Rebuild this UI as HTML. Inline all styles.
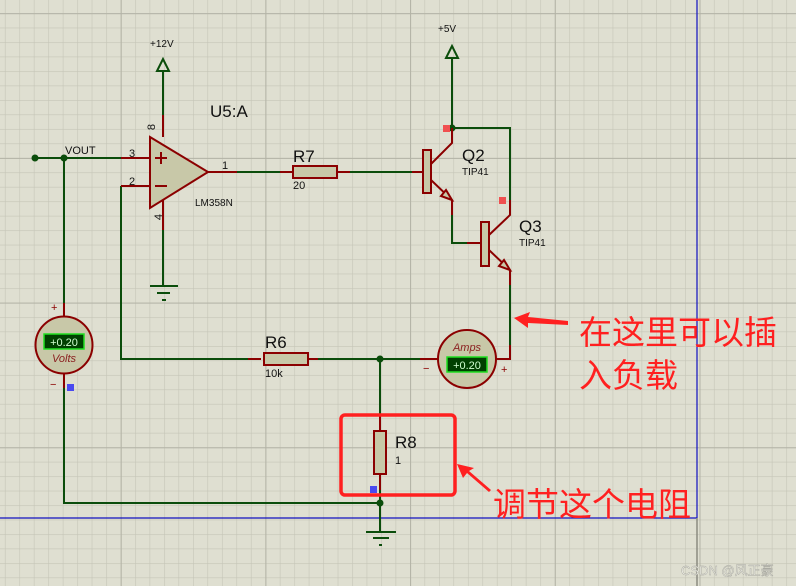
<!DOCTYPE html>
<html><head><meta charset="utf-8"><style>
html,body{margin:0;padding:0;background:#dfdfd1;}
svg{display:block}
text{font-family:"Liberation Sans","Noto Sans CJK SC",sans-serif;}
</style></head><body>
<svg width="796" height="586" viewBox="0 0 796 586" xmlns="http://www.w3.org/2000/svg">
<defs>
<pattern id="mi" x="4.9" y="13.2" width="14.47" height="14.47" patternUnits="userSpaceOnUse">
<path d="M0 0H14.47M0 0V14.47" stroke="#c5c5b7" stroke-width="1.2" fill="none"/>
</pattern>
<pattern id="ma" x="120.7" y="13.2" width="144.7" height="144.7" patternUnits="userSpaceOnUse">
<path d="M0 0H144.7M0 0V144.7" stroke="#b3b3a6" stroke-width="2" fill="none"/>
</pattern>
</defs>
<rect width="796" height="586" fill="#dfdfd1"/>
<rect width="796" height="586" fill="url(#mi)"/>
<rect width="796" height="586" fill="url(#ma)"/>
<line x1="0" y1="518" x2="697" y2="518" stroke="#1010c0" stroke-width="1.2"/>
<line x1="697" y1="0" x2="697" y2="518" stroke="#1010c0" stroke-width="1.2"/>
<line x1="697" y1="518" x2="697" y2="586" stroke="#8a8a80" stroke-width="1.5"/>

<g stroke="#0b4d0b" stroke-width="2" fill="none">
<path d="M35 158H121"/>
<path d="M64 158V303"/>
<path d="M64 388V503H380"/>
<path d="M121 186V359H248"/>
<path d="M163 115V71"/>
<path d="M163 230V286"/>
<path d="M237 172H280"/>
<path d="M350 172H412"/>
<path d="M318 359H420"/>
<path d="M380 359V415"/>
<path d="M380 490V532"/>
<path d="M452 128V58"/>
<path d="M452 128H510V200"/>
<path d="M452 215V243H467"/>
<path d="M510 285V345"/>
<path d="M150 286H178M157 293H170M162 300H166"/>
<path d="M366 532H396M373 538H389M379 545H382"/>
<path d="M157 71L163 59L169 71Z"/>
<path d="M446 58L452 46L458 58Z"/>
</g>
<g fill="#0b4d0b">
<circle cx="35" cy="158" r="3.5"/><circle cx="64" cy="158" r="3.5"/>
<circle cx="380" cy="359" r="3.5"/><circle cx="380" cy="503" r="3.5"/>
<circle cx="452" cy="128" r="3.5"/>
</g>

<g stroke="#8b0000" stroke-width="2" fill="none">
<path d="M121 158H150M121 186H150"/>
<path d="M163 115V137M163 200V230"/>
<path d="M208 172H237"/>
<path d="M280 172H293M337 172H350"/>
<path d="M412 172H423"/>
<path d="M431 164L452 143V128"/>
<path d="M431 180L452 200V215"/>
<path d="M467 243H481"/>
<path d="M489 235L510 215V200"/>
<path d="M489 250L510 270V285"/>
<path d="M248 359H261M304 359H318"/>
<path d="M420 359H438M496 359H510V345"/>
<path d="M380 415V431M380 474V490"/>
<path d="M64 303V317M64 374V388"/>
</g>
<path d="M150 137L208 172L150 208Z" fill="#c8c8a8" stroke="#8b0000" stroke-width="2"/>
<path d="M155 158H167M161 152V164M155 186H167" stroke="#8b0000" stroke-width="2"/>
<rect x="293" y="166" width="44" height="12" fill="#c8c8a8" stroke="#8b0000" stroke-width="2"/>
<rect x="264" y="353" width="44" height="12" fill="#c8c8a8" stroke="#8b0000" stroke-width="2"/>
<rect x="374" y="431" width="12" height="43" fill="#c8c8a8" stroke="#8b0000" stroke-width="2"/>
<rect x="423" y="150" width="8" height="43" fill="#c8c8a8" stroke="#8b0000" stroke-width="2"/>
<rect x="481" y="222" width="8" height="44" fill="#c8c8a8" stroke="#8b0000" stroke-width="2"/>
<path d="M452 200L441 196L446 190Z" fill="#c8c8a8" stroke="#8b0000" stroke-width="2"/>
<path d="M510 270L499 266L504 260Z" fill="#c8c8a8" stroke="#8b0000" stroke-width="2"/>
<rect x="443" y="125" width="7" height="7" fill="#f05050"/>
<rect x="499" y="197" width="7" height="7" fill="#f05050"/>
<rect x="67" y="384" width="7" height="7" fill="#4a4af0"/>
<rect x="370" y="486" width="7" height="7" fill="#4a4af0"/>
<circle cx="64" cy="345" r="28.5" fill="#c8c8a8" stroke="#8b0000" stroke-width="2"/>
<rect x="44" y="334" width="40" height="15" fill="#004000" stroke="#20e020" stroke-width="1.5"/>
<text x="64" y="346" font-size="11" fill="#d0ffd0" text-anchor="middle">+0.20</text>
<text x="64" y="362" font-size="11" fill="#8b2020" font-style="italic" text-anchor="middle">Volts</text>
<circle cx="467" cy="359" r="29" fill="#c8c8a8" stroke="#8b0000" stroke-width="2"/>
<rect x="447" y="357" width="40" height="15" fill="#004000" stroke="#20e020" stroke-width="1.5"/>
<text x="467" y="369" font-size="11" fill="#d0ffd0" text-anchor="middle">+0.20</text>
<text x="467" y="351" font-size="11" fill="#8b2020" font-style="italic" text-anchor="middle">Amps</text>
<g fill="#8b0000" font-size="11">
<text x="51" y="311">+</text><text x="50" y="388">−</text>
<text x="423" y="372">−</text><text x="501" y="373">+</text>
</g>
<g fill="#111">
<text x="150" y="47" font-size="10">+12V</text>
<text x="438" y="32" font-size="10">+5V</text>
<text x="210" y="117" font-size="17">U5:A</text>
<text x="65" y="154" font-size="11">VOUT</text>
<text x="129" y="157" font-size="11">3</text>
<text x="129" y="185" font-size="11">2</text>
<text x="222" y="169" font-size="11">1</text>
<text transform="translate(155,127) rotate(-90)" font-size="11" text-anchor="middle">8</text>
<text transform="translate(162,217) rotate(-90)" font-size="11" text-anchor="middle">4</text>
<text x="195" y="206" font-size="10">LM358N</text>
<text x="293" y="162" font-size="17">R7</text>
<text x="293" y="189" font-size="11">20</text>
<text x="265" y="348" font-size="17">R6</text>
<text x="265" y="377" font-size="11">10k</text>
<text x="395" y="448" font-size="17">R8</text>
<text x="395" y="464" font-size="11">1</text>
<text x="462" y="161" font-size="17">Q2</text>
<text x="462" y="175" font-size="10">TIP41</text>
<text x="519" y="232" font-size="17">Q3</text>
<text x="519" y="246" font-size="10">TIP41</text>
</g>
<rect x="341" y="415" width="114" height="80" rx="4" fill="none" stroke="#ff2020" stroke-width="3.5"/>
<path d="M457 464L474 468L469 471L491 490L489 492L467 473L463 478Z" fill="#ff2020"/>
<path d="M514 318L530 312L528 317L568 321L568 325L528 323L528 328Z" fill="#ff2020"/>
<g fill="#ff2020" font-size="33">
<text x="579" y="344">在这里可以插</text>
<text x="579" y="387">入负载</text>
<text x="493" y="516">调节这个电阻</text>
</g>
<text x="681" y="575" font-size="13" fill="#f4f4ec" stroke="#a0a098" stroke-width="0.4">CSDN @风正豪</text>
</svg>
</body></html>
